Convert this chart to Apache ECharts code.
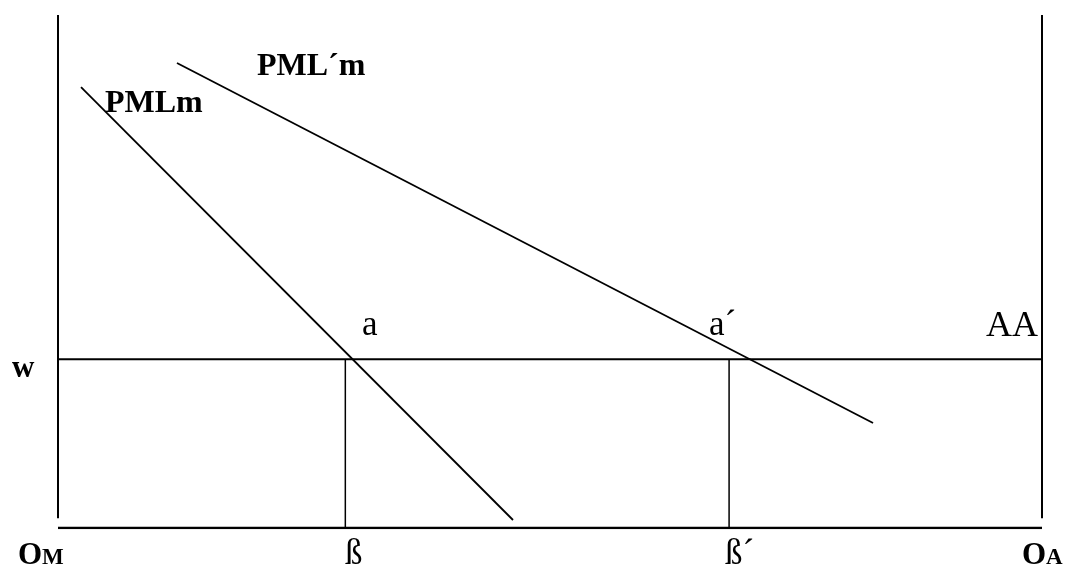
<!DOCTYPE html>
<html lang="en">
<head>
    <meta charset="UTF-8">
    <title>PMLm</title>
    <style>
        html, body {margin: 0; padding: 0; background: #fff;}
        #main {width: 1068px; height: 567px;}
    </style>
</head>
<body>
    <div id="main"></div>
</body>
<script type="text/javascript" src="https://cdn.jsdelivr.net/npm/echarts@6/dist/echarts.min.js"></script>
<script type="text/javascript">
    // 坐标范围 (0-100)
    var xRange = [0, 100];
    var yRange = [0, 100];
    // 两侧纵轴 OM / OA
    var leftAxis = [[0, 1.9], [0, 100]];
    var rightAxis = [[100, 1.9], [100, 100]];
    var bottomAxis = [[0, 0], [100, 0]];
    // 工资水平 w
    var wLevel = 32.9;
    var wLine = [[0, wLevel], [100, wLevel]];
    // ß 与 ß´
    var betaLine = [[29.2, 0], [29.2, wLevel]];
    var betaPrimeLine = [[68.2, 0], [68.2, wLevel]];
    // 劳动边际产品曲线
    var pmlm = [[2.34, 85.96], [46.24, 1.56]];
    var pmlmPrime = [[12.09, 90.64], [82.83, 20.47]];

    var fontFamily = '"Liberation Serif", "Times New Roman", serif';
    var myChart = echarts.init(document.getElementById('main'));

    function seg(data, width) {
        return {
            type: 'line',
            data: data,
            symbol: 'none',
            silent: true,
            animation: false,
            lineStyle: {color: '#000', width: width}
        };
    }

    // 文字: 左端, 基线
    function label(text, x, baseline, size, bold) {
        return {
            type: 'text',
            silent: true,
            style: {
                text: text,
                x: x,
                y: baseline - size * 0.27,
                fill: '#000',
                font: (bold ? 'bold ' : '') + size + 'px ' + fontFamily,
                textAlign: 'left',
                textVerticalAlign: 'middle'
            }
        };
    }

    var option = {
        animation: false,
        backgroundColor: '#fff',
        grid: {left: 58, right: 26, top: 15, bottom: 39},
        xAxis: {type: 'value', min: xRange[0], max: xRange[1], show: false},
        yAxis: {type: 'value', min: yRange[0], max: yRange[1], show: false},
        series: [
            seg(leftAxis, 2),
            seg(rightAxis, 2),
            seg(bottomAxis, 2.5),
            seg(wLine, 2),
            seg(betaLine, 1.5),
            seg(betaPrimeLine, 1.5),
            seg(pmlm, 1.8),
            seg(pmlmPrime, 1.8)
        ],
        graphic: [
            label('PML\u00B4m', 257, 75, 32, true),
            label('PMLm', 105, 112, 32, true),
            label('w', 12, 377, 31, true),
            label('a', 362, 335, 35, false),
            label('a\u00B4', 709, 335, 35, false),
            label('AA', 986, 336, 36, false),
            label('\u00DF', 345, 564, 35, false),
            label('\u00DF\u00B4', 725, 564, 35, false),
            // 小型大写 OM / OA
            label('O', 18, 564, 31, true),
            label('M', 42, 564, 23, true),
            label('O', 1022, 564, 31, true),
            label('A', 1046, 564, 23, true)
        ]
    };

    myChart.setOption(option);
</script>
</html>
